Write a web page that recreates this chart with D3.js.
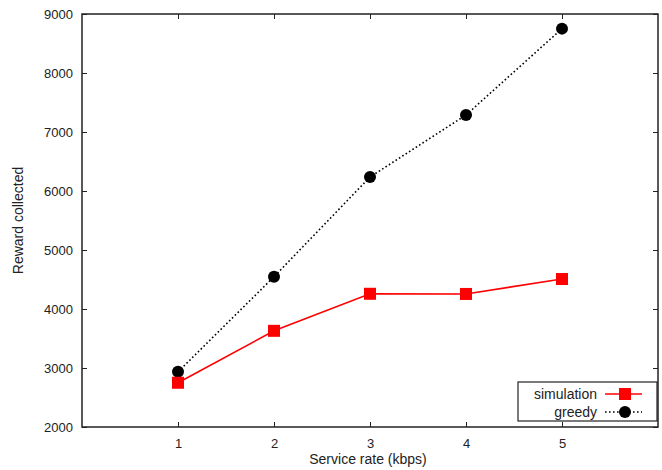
<!DOCTYPE html>
<html>
<head>
<meta charset="utf-8">
<script src="https://cdn.jsdelivr.net/npm/d3@7"></script>
<style>
  body { margin: 0; background: #fff; }
  text { font-family: "Liberation Sans", Arial, sans-serif; fill: #222; }
</style>
</head>
<body>
<div id="chart"></div>
<script>
// data
var rates = [1, 2, 3, 4, 5];
var simulation = [2750, 3630, 4258, 4255, 4508];
var greedy = [2935, 4547, 6237, 7288, 8752];
var yTicks = [2000, 3000, 4000, 5000, 6000, 7000, 8000, 9000];

var margin = {top: 14, right: 4, bottom: 43, left: 82},
    width = 662 - margin.left - margin.right,
    height = 470 - margin.top - margin.bottom;

var svg = d3.select("#chart")
  .append("svg")
    .attr("width", 662)
    .attr("height", 470)
  .append("g")
    .attr("transform", "translate(" + margin.left + "," + margin.top + ")");

var x = d3.scaleLinear().domain([0, 6]).range([0, width]);
var y = d3.scaleLinear().domain([2000, 9000]).range([height, 0]);

// axes, ticks pointing inward, mirrored on top/right
function styleAxis(g) {
  g.select(".domain").remove();
  g.selectAll(".tick line").attr("stroke", "#222").attr("stroke-width", 1);
  g.selectAll(".tick text").style("font-size", "13px").attr("fill", "#222");
}

svg.append("g")
  .attr("transform", "translate(0," + height + ")")
  .call(d3.axisBottom(x).tickValues(rates).tickFormat(d3.format("d")).tickSizeInner(-5).tickPadding(12))
  .call(styleAxis);

svg.append("g")
  .call(d3.axisTop(x).tickValues(rates).tickSizeInner(-5).tickFormat(""))
  .call(styleAxis);

svg.append("g")
  .call(d3.axisLeft(y).tickValues(yTicks).tickFormat(d3.format("d")).tickSizeInner(-5).tickPadding(9))
  .call(styleAxis);

svg.append("g")
  .attr("transform", "translate(" + width + ",0)")
  .call(d3.axisRight(y).tickValues(yTicks).tickSizeInner(-5).tickFormat(""))
  .call(styleAxis);

svg.append("rect")
  .attr("width", width).attr("height", height)
  .attr("fill", "none").attr("stroke", "#222").attr("stroke-width", 1.5);

// axis titles
svg.append("text")
  .attr("x", width / 2 - 2).attr("y", height + 37)
  .attr("text-anchor", "middle")
  .style("font-size", "14px")
  .text("Service rate (kbps)");

svg.append("text")
  .attr("transform", "translate(" + (-59) + "," + (height / 2) + ") rotate(-90)")
  .attr("text-anchor", "middle")
  .style("font-size", "14px")
  .text("Reward collected");

// lines
var line = d3.line()
  .x(function(d, i) { return x(rates[i]); })
  .y(function(d) { return y(d); });

svg.append("path")
  .datum(greedy)
  .attr("d", line)
  .attr("fill", "none")
  .attr("stroke", "#000")
  .attr("stroke-width", 1.6)
  .attr("stroke-dasharray", "1.6,2.4");

svg.append("path")
  .datum(simulation)
  .attr("d", line)
  .attr("fill", "none")
  .attr("stroke", "#f00")
  .attr("stroke-width", 1.6);

svg.selectAll(".greedyPt")
  .data(greedy)
  .enter()
  .append("circle")
    .attr("class", "greedyPt")
    .attr("cx", function(d, i) { return x(rates[i]); })
    .attr("cy", function(d) { return y(d); })
    .attr("r", 6)
    .attr("fill", "#000");

svg.selectAll(".simPt")
  .data(simulation)
  .enter()
  .append("rect")
    .attr("class", "simPt")
    .attr("x", function(d, i) { return x(rates[i]) - 6; })
    .attr("y", function(d) { return y(d) - 6; })
    .attr("width", 12)
    .attr("height", 12)
    .attr("fill", "#f00");

// legend
var lg = svg.append("g").attr("transform", "translate(" + (518 - margin.left) + "," + (382 - margin.top) + ")");
lg.append("rect")
  .attr("width", 139).attr("height", 39)
  .attr("fill", "#fff").attr("stroke", "#222").attr("stroke-width", 1.2);

var legendItems = [
  {name: "simulation", dy: 12},
  {name: "greedy", dy: 30}
];

lg.selectAll(".lt")
  .data(legendItems)
  .enter()
  .append("text")
    .attr("class", "lt")
    .attr("x", 79).attr("y", function(d) { return d.dy + 5; })
    .attr("text-anchor", "end")
    .style("font-size", "14px")
    .text(function(d) { return d.name; });

lg.append("line")
  .attr("x1", 87).attr("x2", 124).attr("y1", 12).attr("y2", 12)
  .attr("stroke", "#f00").attr("stroke-width", 1.6);
lg.append("rect")
  .attr("x", 101).attr("y", 6).attr("width", 12).attr("height", 12)
  .attr("fill", "#f00");

lg.append("line")
  .attr("x1", 87).attr("x2", 124).attr("y1", 30).attr("y2", 30)
  .attr("stroke", "#000").attr("stroke-width", 1.6)
  .attr("stroke-dasharray", "1.6,2.4");
lg.append("circle")
  .attr("cx", 107).attr("cy", 30).attr("r", 6)
  .attr("fill", "#000");
</script>
</body>
</html>
